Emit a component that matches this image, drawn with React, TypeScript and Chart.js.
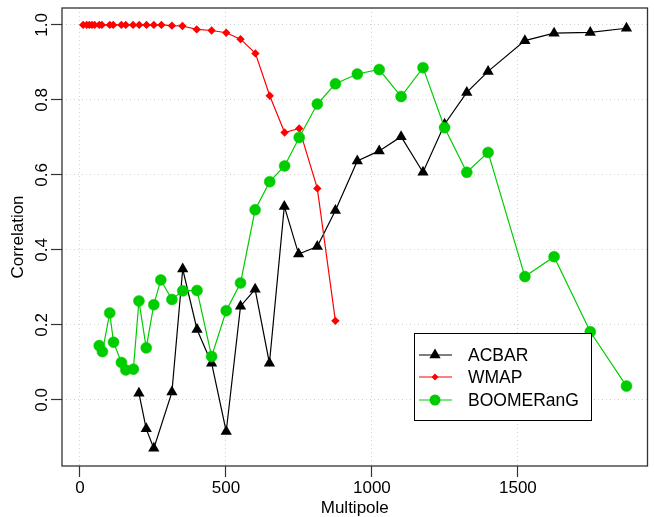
import React, { useEffect, useRef } from 'react';
import { Chart, registerables } from 'chart.js';
Chart.register(...registerables);

const xTicks = [0, 500, 1000, 1500];
const yTicks = [0, 0.2, 0.4, 0.6, 0.8, 1.0];

const acbarL = [202, 227, 253, 315, 352, 401, 451, 501, 550, 600, 649, 700, 749, 813, 875, 950, 1025, 1100, 1175, 1249, 1325, 1398, 1524, 1624, 1748, 1872];
const acbarR = [0.018, -0.077, -0.129, 0.021, 0.349, 0.188, 0.098, -0.084, 0.25, 0.295, 0.098, 0.516, 0.389, 0.409, 0.505, 0.637, 0.664, 0.702, 0.607, 0.735, 0.82, 0.876, 0.958, 0.978, 0.98, 0.991];

const wmapL = [11, 23, 32, 41, 50, 66, 75, 102, 114, 142, 157, 182, 203, 228, 253, 279, 315, 351, 400, 451, 501, 550, 601, 650, 701, 751, 813, 875];
const wmapR = [1, 1, 1, 1, 1, 1, 1, 1, 1, 1, 1, 1, 1, 1, 1, 1, 0.998, 0.997, 0.988, 0.985, 0.979, 0.962, 0.924, 0.811, 0.713, 0.724, 0.564, 0.211];

const boomL = [66, 77, 102, 115, 142, 157, 183, 202, 227, 253, 277, 315, 352, 401, 451, 501, 550, 600, 650, 701, 751, 813, 875, 950, 1025, 1100, 1175, 1249, 1325, 1398, 1524, 1624, 1748, 1872];
const boomR = [0.145, 0.129, 0.232, 0.154, 0.1, 0.08, 0.082, 0.264, 0.139, 0.254, 0.32, 0.268, 0.291, 0.292, 0.116, 0.238, 0.312, 0.507, 0.582, 0.624, 0.7, 0.789, 0.843, 0.869, 0.881, 0.809, 0.886, 0.726, 0.607, 0.66, 0.329, 0.382, 0.182, 0.037];

const seriesNames = ['ACBAR', 'WMAP', 'BOOMERanG'];

const FONT = '"Liberation Sans", Arial, Helvetica, sans-serif';
const GREEN = '#00cd00';
const RED = '#ff0000';
const BLACK = '#000000';

const toPts = (xs: number[], ys: number[]) => xs.map((x, i) => ({ x, y: ys[i] }));

const boxPlugin = {
  id: 'boxPlugin',
  afterDraw(chart: any) {
    const { ctx, chartArea } = chart;
    ctx.save();
    ctx.strokeStyle = '#333333';
    ctx.lineWidth = 1.3;
    ctx.setLineDash([]);
    ctx.strokeRect(chartArea.left, chartArea.top, chartArea.right - chartArea.left, chartArea.bottom - chartArea.top);
    ctx.restore();
  },
};

const legendPlugin = {
  id: 'rLegend',
  afterDraw(chart: any) {
    const { ctx } = chart;
    const left = 414, top = 333, w = 177, h = 87;
    ctx.save();
    ctx.fillStyle = '#ffffff';
    ctx.fillRect(left, top, w, h);
    ctx.strokeStyle = '#000';
    ctx.lineWidth = 1;
    ctx.setLineDash([]);
    ctx.strokeRect(left + 0.5, top + 0.5, w, h);
    const rows = [355, 377, 400];
    const legendIdx = [0, 1, 2];
    legendIdx.forEach((di, r) => {
      const ds = chart.data.datasets[di];
      const y = rows[r];
      ctx.strokeStyle = ds.borderColor;
      ctx.lineWidth = 1.2;
      ctx.beginPath();
      ctx.moveTo(419, y);
      ctx.lineTo(452, y);
      ctx.stroke();
      ctx.fillStyle = ds.pointBackgroundColor;
      ctx.beginPath();
      if (ds.pointStyle === 'triangle') {
        const rr = ds.pointRadius;
        ctx.moveTo(435, y - rr);
        ctx.lineTo(435 + rr * 0.866, y + rr * 0.5);
        ctx.lineTo(435 - rr * 0.866, y + rr * 0.5);
        ctx.closePath();
      } else if (ds.pointStyle === 'rectRot') {
        const rr = 3.5;
        ctx.moveTo(435, y - rr);
        ctx.lineTo(435 + rr, y);
        ctx.lineTo(435, y + rr);
        ctx.lineTo(435 - rr, y);
        ctx.closePath();
      } else {
        ctx.arc(435, y, ds.pointRadius, 0, Math.PI * 2);
      }
      ctx.fill();
      ctx.fillStyle = '#000';
      ctx.font = `17.5px ${FONT}`;
      ctx.textBaseline = 'middle';
      ctx.textAlign = 'left';
      ctx.fillText(ds.label, 468, y + 1);
    });
    ctx.restore();
  },
};

export default function App() {
  const ref = useRef<HTMLCanvasElement>(null);
  useEffect(() => {
    if (!ref.current) return;
    const chart = new Chart(ref.current, {
      type: 'line',
      data: {
        datasets: [
          {
            label: seriesNames[0],
            data: toPts(acbarL, acbarR),
            borderColor: BLACK,
            backgroundColor: BLACK,
            pointBackgroundColor: BLACK,
            pointBorderColor: BLACK,
            pointStyle: 'triangle',
            pointRadius: 6.5,
            pointBorderWidth: 0,
            borderWidth: 1.2,
            order: 2,
          } as any,
          {
            label: seriesNames[1],
            data: toPts(wmapL, wmapR),
            borderColor: RED,
            backgroundColor: RED,
            pointBackgroundColor: RED,
            pointBorderColor: RED,
            pointStyle: 'rectRot',
            pointRadius: 4.2,
            pointBorderWidth: 0,
            borderWidth: 1.2,
            order: 1,
          } as any,
          {
            label: seriesNames[2],
            data: toPts(boomL, boomR),
            borderColor: GREEN,
            backgroundColor: GREEN,
            pointBackgroundColor: GREEN,
            pointBorderColor: GREEN,
            pointStyle: 'circle',
            pointRadius: 5.5,
            pointBorderWidth: 0.5,
            borderWidth: 1.2,
            order: 0,
          } as any,
        ],
      },
      options: {
        animation: false,
        responsive: false,
        maintainAspectRatio: false,
        layout: { padding: { left: 0, top: 8, right: 5, bottom: 0 } },
        plugins: { legend: { display: false }, tooltip: { enabled: false } },
        elements: { line: { tension: 0 } },
        scales: {
          x: {
            type: 'linear',
            min: -61.5,
            max: 1944,
            afterBuildTicks: (s: any) => { s.ticks = xTicks.map((v) => ({ value: v })); },
            afterFit: (s: any) => { s.height = 51; },
            ticks: {
              autoSkip: false,
              maxRotation: 0,
              minRotation: 0,
              padding: 1,
              color: '#000',
              font: { family: FONT, size: 17 },
              callback: (v: any) => String(v),
            },
            grid: {
              color: '#d3d3d3',
              lineWidth: 1,
              tickLength: 11,
              tickColor: '#333',
              tickWidth: 1.2,
              tickBorderDash: [],
            } as any,
            border: { display: false, dash: [1, 3] } as any,
            title: {
              display: true,
              text: 'Multipole',
              color: '#000',
              font: { family: FONT, size: 17, lineHeight: 1 },
              padding: { top: 0, bottom: 0 },
            },
          },
          y: {
            type: 'linear',
            min: -0.176,
            max: 1.045,
            afterBuildTicks: (s: any) => { s.ticks = yTicks.map((v) => ({ value: v })); },
            afterFit: (s: any) => { s.width = 62; },
            ticks: {
              autoSkip: false,
              minRotation: 90,
              maxRotation: 90,
              crossAlign: 'center',
              padding: -3,
              color: '#000',
              font: { family: FONT, size: 17 },
              callback: (v: any) => Number(v).toFixed(1),
            } as any,
            grid: {
              color: '#d3d3d3',
              lineWidth: 1,
              tickLength: 11,
              tickColor: '#333',
              tickWidth: 1.2,
              tickBorderDash: [],
            } as any,
            border: { display: false, dash: [1, 3] } as any,
            title: {
              display: true,
              text: 'Correlation',
              color: '#000',
              font: { family: FONT, size: 17, lineHeight: 1.2 },
              padding: { top: 8, bottom: 0 },
            },
          },
        },
      },
      plugins: [boxPlugin, legendPlugin],
    });
    return () => chart.destroy();
  }, []);
  return (
    <div style={{ position: 'absolute', left: 0, top: 0, width: 654, height: 517, background: '#fff' }}>
      <canvas ref={ref} width={654} height={517} style={{ width: 654, height: 517, display: 'block' }} />
    </div>
  );
}
